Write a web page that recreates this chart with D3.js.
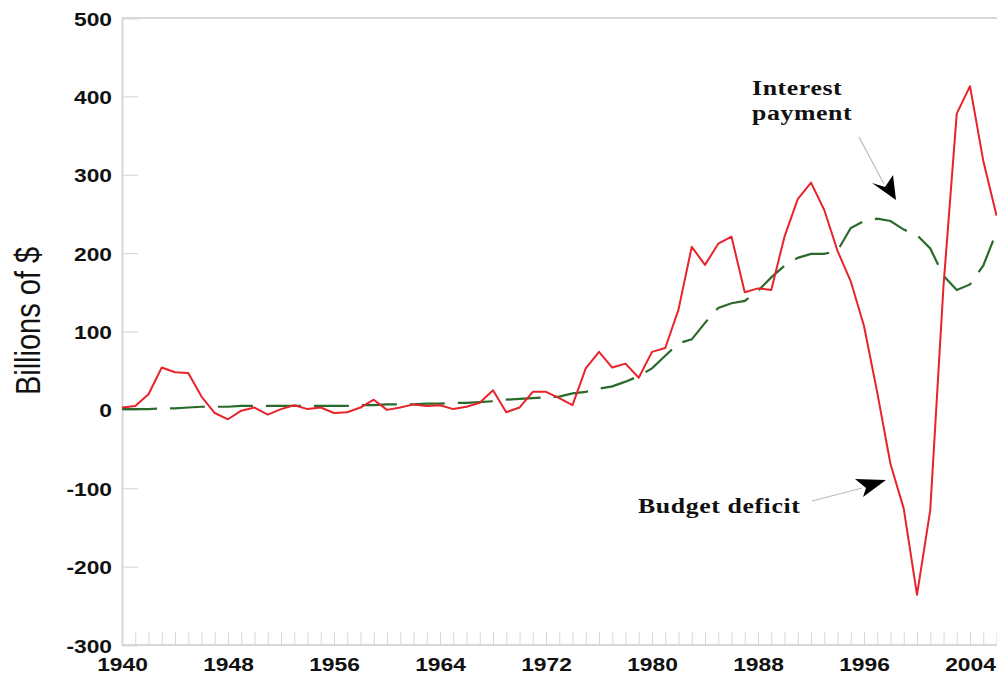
<!DOCTYPE html>
<html>
<head>
<meta charset="utf-8">
<script src="https://cdn.jsdelivr.net/npm/d3@7"></script>
<style>
  html, body { margin: 0; padding: 0; background: #fff; }
  svg { display: block; }
</style>
</head>
<body>
<svg id="chart" width="997" height="675"></svg>
<script>
const years = [1940,1941,1942,1943,1944,1945,1946,1947,1948,1949,
  1950,1951,1952,1953,1954,1955,1956,1957,1958,1959,
  1960,1961,1962,1963,1964,1965,1966,1967,1968,1969,
  1970,1971,1972,1973,1974,1975,1976,1977,1978,1979,
  1980,1981,1982,1983,1984,1985,1986,1987,1988,1989,
  1990,1991,1992,1993,1994,1995,1996,1997,1998,1999,
  2000,2001,2002,2003,2004,2005,2006];
const deficit = [3,5,20,54,48,47,17,-4,-12,-1,
  3,-6,1,6,1,3,-4,-3,3,13,
  0,3,7,5,6,1,4,9,25,-3,
  3,23,23,15,6,53,74,54,59,41,
  74,79,128,208,185,212,221,150,155,153,
  221,269,290,255,203,164,107,22,-69,-126,
  -236,-128,158,378,413,318,248];
const interest = [1,1,1,2,2,3,4,4,4,5,
  5,5,5,5,5,5,5,5,6,6,
  7,7,7,8,8,9,9,10,11,13,
  14,15,16,17,21,23,27,30,36,43,
  53,69,85,90,111,130,136,139,152,169,
  184,194,199,199,203,232,241,244,241,230,
  223,206,171,153,160,184,227];
const yTicks = [-300,-200,-100,0,100,200,300,400,500];
const xTickLabels = [1940,1948,1956,1964,1972,1980,1988,1996,2004];
const yTitle = "Billions of $";
const labelInterest = ["Interest", "payment"];
const labelDeficit = "Budget deficit";

const svg = d3.select("#chart");
const x = d3.scaleLinear().domain([1940, 2006]).range([122, 996.5]);
const y = d3.scaleLinear().domain([-300, 500]).range([645, 18]);
const axisColor = "#d8d8d8";
const SX = 1.2;
const plainFmt = d => String(d);

// frame line at top
svg.append("line").attr("x1", x(1940)).attr("x2", 997).attr("y1", y(500)).attr("y2", y(500))
  .attr("stroke", axisColor).attr("stroke-width", 2);

// x minor ticks (every year)
const xMinor = svg.append("g").attr("transform", `translate(0,${y(-300)})`)
  .call(d3.axisBottom(x).tickValues(years).tickSize(-13).tickFormat(""));
xMinor.select(".domain").remove();
xMinor.selectAll(".tick line").attr("stroke", axisColor).attr("stroke-width", 1);

// x labels
const xLab = svg.append("g").attr("transform", `translate(0,${y(-300)})`)
  .call(d3.axisBottom(x).tickValues(xTickLabels).tickSize(0).tickFormat(plainFmt));
xLab.select(".domain").remove();
xLab.selectAll(".tick text")
  .attr("y", 0).attr("dy", null)
  .attr("transform", `translate(0,26) scale(${SX},1)`)
  .attr("font-family", "Liberation Sans, Arial, sans-serif")
  .attr("font-weight", "bold").attr("font-size", 19).attr("fill", "#111");

// y axis
const yAx = svg.append("g").attr("transform", `translate(${x(1940)},0)`)
  .call(d3.axisLeft(y).tickValues(yTicks).tickSize(-16).tickFormat(plainFmt));
yAx.select(".domain").attr("stroke", axisColor).attr("stroke-width", 2);
yAx.selectAll(".tick line").attr("stroke", axisColor).attr("stroke-width", 1.2)
  .filter(d => d === -300 || d === 500).remove();
yAx.selectAll(".tick text")
  .attr("x", 0).attr("dy", null).attr("y", 0)
  .attr("text-anchor", "end")
  .attr("transform", `translate(-10,7) scale(${SX},1)`)
  .attr("font-family", "Liberation Sans, Arial, sans-serif")
  .attr("font-weight", "bold").attr("font-size", 19).attr("fill", "#111");

// x axis baseline
svg.append("line").attr("x1", x(1940)).attr("x2", 997).attr("y1", y(-300)).attr("y2", y(-300))
  .attr("stroke", axisColor).attr("stroke-width", 2);

// y title
svg.append("text").text(yTitle)
  .attr("transform", `translate(40,321) scale(${SX},1) rotate(-90)`)
  .attr("text-anchor", "middle")
  .attr("font-family", "Liberation Sans, Arial, sans-serif")
  .attr("font-size", 29).attr("fill", "#111");

// lines
const line = d3.line().x((d, i) => x(years[i])).y(d => y(d));
svg.append("path").datum(interest).attr("d", line)
  .attr("fill", "none").attr("stroke", "#2a6a2a").attr("stroke-width", 2.2)
  .attr("stroke-dasharray", "35,13");
svg.append("path").datum(deficit).attr("d", line)
  .attr("fill", "none").attr("stroke", "#e8232b").attr("stroke-width", 2)
  .attr("stroke-linejoin", "round");

// annotations
const annFont = "Liberation Serif, 'Times New Roman', serif";
labelInterest.forEach((t, i) => {
  svg.append("text").text(t)
    .attr("transform", `translate(752,${95 + i * 25}) scale(${SX},1)`)
    .attr("font-family", annFont).attr("font-weight", "bold")
    .attr("font-size", 21.5).attr("letter-spacing", 0.5).attr("fill", "#111");
});
svg.append("text").text(labelDeficit)
  .attr("transform", `translate(638,513) scale(${SX},1)`)
  .attr("font-family", annFont).attr("font-weight", "bold")
  .attr("font-size", 21.5).attr("letter-spacing", 0.5).attr("fill", "#111");

// arrows
svg.append("line").attr("x1", 859).attr("y1", 137).attr("x2", 884).attr("y2", 184)
  .attr("stroke", "#bbb").attr("stroke-width", 1.2);
svg.append("path").attr("d", "M896,200 L872,183 L885,187 L893,175 Z").attr("fill", "#000");
svg.append("line").attr("x1", 812).attr("y1", 501).attr("x2", 862).attr("y2", 488)
  .attr("stroke", "#bbb").attr("stroke-width", 1.2);
svg.append("path").attr("d", "M886,480 L855,479 L866,488 L863,497 Z").attr("fill", "#000");
</script>
</body>
</html>
